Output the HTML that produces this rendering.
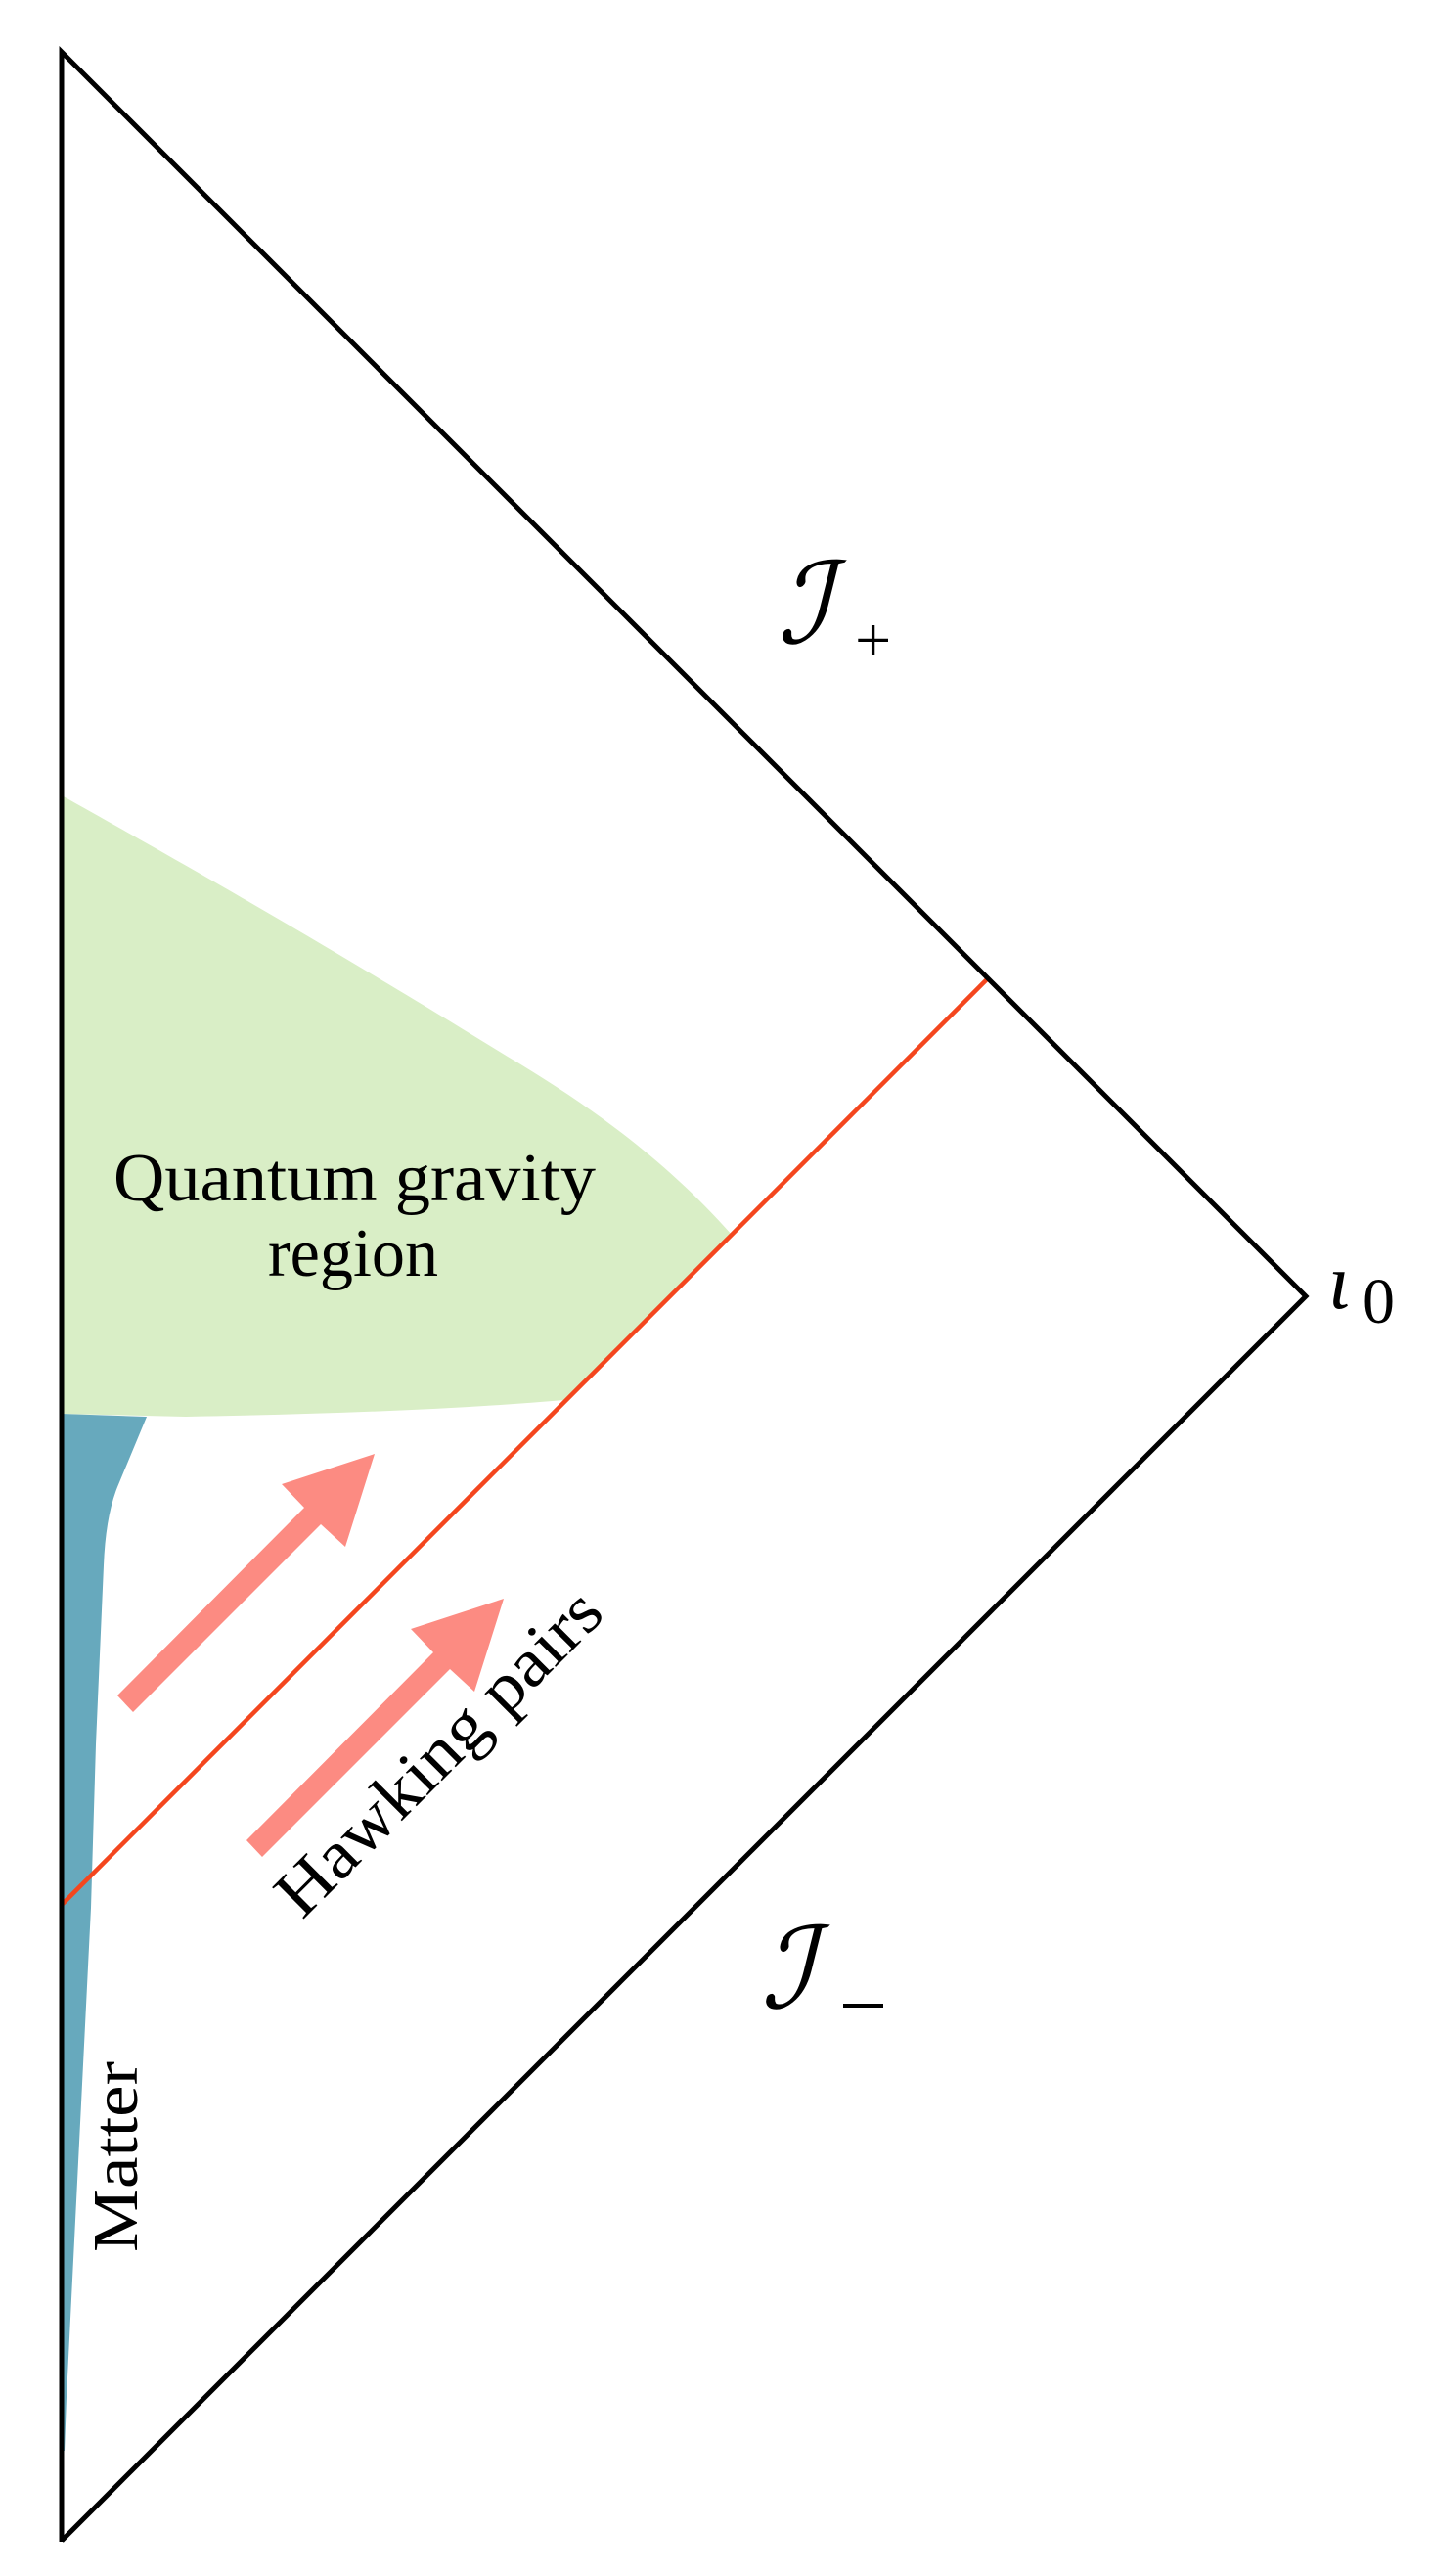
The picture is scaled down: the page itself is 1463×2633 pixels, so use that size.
<!DOCTYPE html>
<html><head><meta charset="utf-8"><style>html,body{margin:0;padding:0;background:#fff}svg{display:block}</style></head>
<body>
<svg width="1463" height="2633" viewBox="0 0 1463 2633" xmlns="http://www.w3.org/2000/svg">
<path d="M63,813 C150,862 300,945 519,1080 C600,1128 680,1185 748,1262 L577,1431 C450,1442 300,1446 190,1448 L63,1445 Z" fill="#d9eec6"/>
<path d="M63,1445 L150,1448 L120,1520 Q108,1550 106,1600 L98,1783 L93,1950 L68,2450 L66,2505 L63,2505 Z" fill="#67a9bd"/>
<line x1="63" y1="1947" x2="1010" y2="1000" stroke="#f4461e" stroke-width="4.5"/>
<g fill="#fc8b82">
<polygon points="120,1733 136,1750 328,1558 353,1581 383,1486 288,1517 311,1541"/>
<polygon points="252,1881 268,1898 460,1706 485,1729 515,1634 420,1665 443,1689"/>
</g>
<polyline points="63,2598 63,53 1335,1325 63,2597" fill="none" stroke="#000" stroke-width="5" stroke-linejoin="miter"/>
<g font-family="Liberation Serif, DejaVu Serif, serif" fill="#000">
<text x="116" y="1227" font-size="70" textLength="493" lengthAdjust="spacingAndGlyphs">Quantum gravity</text>
<text x="274" y="1304" font-size="70" textLength="174" lengthAdjust="spacingAndGlyphs">region</text>
<text transform="translate(309,1963) rotate(-45)" font-size="70" textLength="440" lengthAdjust="spacingAndGlyphs">Hawking pairs</text>
<text transform="translate(140,2302) rotate(-90)" font-size="66" textLength="195" lengthAdjust="spacingAndGlyphs">Matter</text>
<text x="1358" y="1337" font-size="80" font-style="italic">ι</text>
<text x="1393" y="1352" font-size="66">0</text>
<text x="795" y="657" font-size="115" font-style="italic" font-family="DejaVu Serif, serif">ℐ</text>
<text x="874" y="676" font-size="66">+</text>
<text x="778" y="2052" font-size="115" font-style="italic" font-family="DejaVu Serif, serif">ℐ</text>
<rect x="862" y="2048" width="41" height="4"/>
</g>
</svg>
</body></html>
